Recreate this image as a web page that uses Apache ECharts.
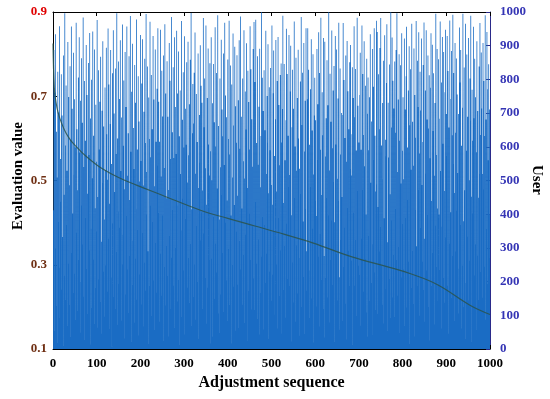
<!DOCTYPE html>
<html>
<head>
<meta charset="utf-8">
<script src="https://cdn.jsdelivr.net/npm/echarts@6/dist/echarts.min.js"></script>
<style>html,body{margin:0;padding:0;background:#fff;}#c{width:550px;height:399px;}</style>
</head>
<body>
<div id="c"></div>
<script>
// Evaluation value curve (left axis)
var evalSeq = [0, 3, 7, 12, 20, 30, 40, 50, 61, 75, 90, 113, 150, 191, 250, 336, 400, 462, 530, 594, 686, 766, 820, 881, 954, 1000];
var evalValues = [0.825, 0.72, 0.685, 0.66, 0.635, 0.612, 0.596, 0.584, 0.572, 0.558, 0.545, 0.528, 0.507, 0.489, 0.465, 0.430, 0.410, 0.392, 0.372, 0.352, 0.318, 0.295, 0.278, 0.252, 0.204, 0.182];
// User selected at each adjustment (right axis), adjustments 1..1000
var userValues = [
412,887,53,761,298,934,127,645,509,18,823,376,702,241,958,91,564,437,815,176,
693,332,9,871,458,217,996,604,145,782,367,529,68,911,253,748,486,130,839,621,
35,957,284,713,402,166,879,517,741,223,599,86,968,345,652,471,112,806,264,925,
583,199,737,48,863,426,671,310,984,155,540,795,27,618,389,902,237,754,461,103,
849,576,292,938,13,684,357,799,121,507,942,265,633,74,889,418,181,725,556,349,
976,63,451,827,206,592,734,139,867,318,45,707,492,913,229,660,384,96,776,531,
248,894,637,170,502,951,327,785,59,431,668,887,212,549,5,818,373,946,154,699,
466,119,832,579,287,996,71,625,408,853,193,742,360,916,528,84,687,251,963,339,
603,797,31,474,881,162,718,395,957,236,514,640,107,869,442,276,988,585,20,763,
321,906,190,656,534,78,843,268,731,415,978,146,592,353,809,40,675,497,221,932,
558,132,788,344,919,485,67,704,256,861,611,173,994,399,525,838,290,14,746,623,
187,971,425,569,813,98,652,377,929,203,740,483,56,889,314,615,167,772,544,952,
403,734,81,615,283,947,512,158,826,396,690,23,871,537,243,964,129,758,447,305,
854,216,689,472,37,908,335,796,564,117,985,271,643,412,836,188,567,925,62,718,
299,579,944,141,758,426,883,205,631,11,767,519,352,973,94,680,446,821,233,598,
928,43,713,385,606,851,182,494,912,269,575,726,136,858,311,997,415,68,640,786,
154,669,820,251,939,520,87,757,365,614,198,877,478,29,694,553,901,322,781,405,
731,470,118,982,343,658,803,211,536,960,75,428,745,182,892,607,264,515,848,16,
587,925,268,501,729,36,846,392,673,148,955,312,601,819,227,476,990,105,662,384,
47,803,539,162,918,457,711,284,631,877,109,546,968,375,752,203,688,441,82,859,
623,297,974,130,577,841,396,16,785,509,249,936,663,185,427,897,54,720,348,612,
872,191,455,738,62,916,320,594,987,236,689,417,131,803,557,279,946,77,506,764,
339,651,907,24,478,826,172,733,401,592,958,264,830,117,682,365,541,890,209,970,
115,792,436,977,253,611,88,869,547,325,719,43,891,480,166,632,999,274,805,392,
706,58,827,368,649,196,944,519,283,751,612,904,30,462,777,229,590,834,143,487,
960,428,220,759,886,347,573,102,682,917,251,467,795,61,926,388,724,157,545,813,
292,847,613,45,712,989,175,433,846,305,560,93,679,950,372,816,207,633,481,932,
516,186,764,900,397,22,658,829,257,713,138,972,448,601,81,864,529,307,745,165,
888,625,39,535,270,794,459,985,124,665,820,378,213,908,586,44,737,415,952,290,
173,741,952,314,829,91,606,233,771,481,919,150,648,357,875,518,19,693,805,440,
679,395,126,890,560,726,274,940,67,819,341,591,983,205,457,762,634,118,923,276,
34,912,571,211,685,447,857,153,723,396,999,530,79,817,264,674,381,945,596,189,
767,495,840,376,21,929,607,282,889,144,505,743,439,968,213,57,832,577,322,700,
451,83,694,967,243,798,360,626,134,871,556,28,914,418,765,291,652,187,851,534,
902,637,262,515,836,11,745,404,958,188,688,831,323,589,97,983,468,722,247,613,
219,754,879,69,591,327,960,472,816,635,170,913,542,266,781,399,108,861,698,36,
806,335,590,747,142,934,493,196,675,41,890,311,778,560,952,227,633,467,115,974,
488,941,104,421,815,652,289,893,361,982,247,604,131,730,504,855,76,388,931,572,
621,177,789,964,317,53,731,568,207,844,459,91,999,381,657,924,153,796,278,714,
95,853,415,642,887,264,996,158,525,740,303,875,618,47,842,491,212,937,370,588,
747,504,236,921,68,711,389,809,956,123,598,442,767,259,898,15,664,830,532,180,
965,291,674,133,544,892,37,754,412,627,973,305,186,855,718,472,940,99,580,823,
358,708,921,487,259,614,843,175,969,327,81,767,520,946,233,681,397,871,125,654,
812,25,566,775,937,186,439,903,285,647,818,514,73,730,366,995,243,576,890,417,
142,860,399,234,683,972,528,61,791,363,926,609,211,881,469,137,762,947,331,697,
573,929,188,825,45,657,312,975,742,406,151,884,634,275,992,549,819,83,463,908,
289,642,862,410,755,522,105,697,238,954,791,367,887,61,603,247,716,995,379,125,
835,471,30,965,196,588,874,333,689,144,923,501,262,803,677,989,21,452,769,618,
402,956,685,218,861,311,747,56,584,913,277,706,449,145,838,519,967,635,228,880,
714,152,519,908,473,795,244,632,990,87,681,356,941,771,193,560,845,399,711,268
];
var xTicks = [0,100,200,300,400,500,600,700,800,900,1000];
var leftTicks = [0.1,0.3,0.5,0.7,0.9];
var rightTicks = [0,100,200,300,400,500,600,700,800,900,1000];

var barData = userValues.map(function(v,i){return [i+1, v];});
var lineData = evalSeq.map(function(s,i){return [s, evalValues[i]];});

var FONT = 'Liberation Serif';
var plain = function(v){return String(v);};
var chart = echarts.init(document.getElementById('c'), null, {renderer:'canvas'});
chart.setOption({
  animation:false,
  backgroundColor:'#ffffff',
  grid:{left:53, right:60, top:12, bottom:50, containLabel:false, outerBoundsMode:'none'},
  graphic:[
    {type:'text', x:18, y:176, rotation:Math.PI/2,
      style:{text:'Evaluation value', font:'bold 15px "Liberation Serif"', fill:'#000', align:'center', verticalAlign:'middle'}},
    {type:'text', x:537, y:180, rotation:-Math.PI/2,
      style:{text:'User', font:'bold 15px "Liberation Serif"', fill:'#000', align:'center', verticalAlign:'middle'}}
  ],
  xAxis:[{
    type:'value', min:xTicks[0], max:xTicks[xTicks.length-1], interval:100, position:'bottom',
    splitLine:{show:false},
    axisLine:{show:true, lineStyle:{color:'#000', width:1}},
    axisTick:{show:true, inside:true, length:4, lineStyle:{color:'#000'}},
    axisLabel:{color:'#000', fontFamily:FONT, fontWeight:'bold', fontSize:13, margin:8, formatter:plain},
    name:'Adjustment sequence', nameLocation:'middle', nameGap:25,
    nameTextStyle:{color:'#000', fontFamily:FONT, fontWeight:'bold', fontSize:16}
  },{
    type:'value', min:0, max:1000, interval:100, position:'top',
    splitLine:{show:false},
    axisLine:{show:true, onZero:false, lineStyle:{color:'#000', width:1}},
    axisTick:{show:true, inside:true, length:4, lineStyle:{color:'#000'}},
    axisLabel:{show:false}
  }],
  yAxis:[{
    type:'value', min:leftTicks[0], max:leftTicks[leftTicks.length-1], interval:0.2, position:'left',
    splitLine:{show:false},
    axisLine:{show:true, onZero:false, lineStyle:{color:'#000', width:1}},
    axisTick:{show:true, inside:true, length:4, lineStyle:{color:'#000'}},
    axisLabel:{fontFamily:FONT, fontWeight:'bold', fontSize:13, margin:6,
      formatter:function(v){var s=v.toFixed(1); return Math.abs(v-0.9)<1e-6 ? '{r|'+s+'}' : '{d|'+s+'}';},
      rich:{r:{color:'#e00000', fontFamily:FONT, fontWeight:'bold', fontSize:13}, d:{color:'#6e2e12', fontFamily:FONT, fontWeight:'bold', fontSize:13}}}
  },{
    type:'value', min:rightTicks[0], max:rightTicks[rightTicks.length-1], interval:100, position:'right',
    splitLine:{show:false},
    axisLine:{show:true, onZero:false, lineStyle:{color:'#2a2a8a', width:1}},
    axisTick:{show:true, inside:true, length:4, lineStyle:{color:'#2a2a8a'}},
    axisLabel:{color:'#3535b5', fontFamily:FONT, fontWeight:'bold', fontSize:13, margin:10, formatter:plain}
  }],
  series:[{
    type:'bar', xAxisIndex:0, yAxisIndex:1, data:barData, large:true, largeThreshold:400,
    barWidth:0.8,
    itemStyle:{color:'#1a6cc4'}, z:2
  },{
    type:'line', xAxisIndex:0, yAxisIndex:0, data:lineData, smooth:0.4, showSymbol:false,
    lineStyle:{color:'#2a544c', width:1.2, opacity:0.85}, z:3
  }]
});
</script>
</body>
</html>
